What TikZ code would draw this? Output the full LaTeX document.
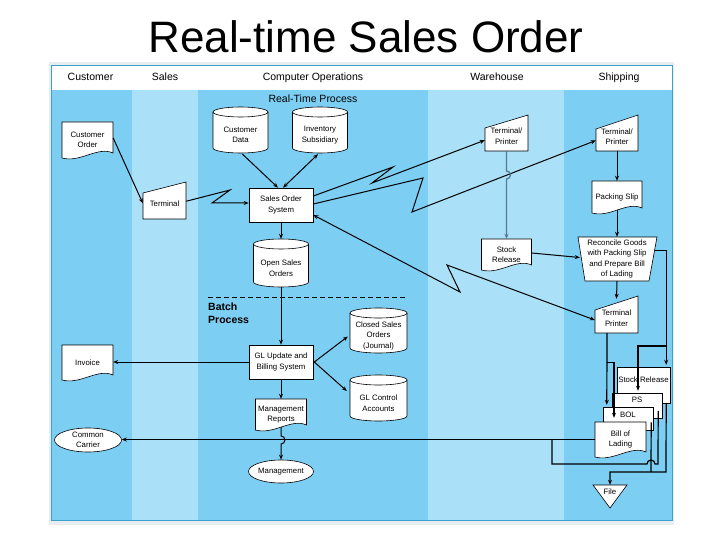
\documentclass[tikz,border=0pt]{standalone}
\usepackage{fontspec}
\setmainfont{Liberation Sans}
\usetikzlibrary{arrows.meta,calc,shapes.geometric}
\definecolor{lanemid}{RGB}{125,206,243}
\definecolor{lanelight}{RGB}{170,224,248}
\definecolor{frameline}{RGB}{60,160,205}
\definecolor{framebg}{RGB}{232,238,240}
\definecolor{slate}{RGB}{85,120,145}
\tikzset{
  shapebox/.style={draw=black, fill=white, line width=0.6pt},
  lbl/.style={inner sep=0pt, align=center, font=\fontsize{7.8}{10.5}\selectfont},
  hdr/.style={inner sep=0pt, text height=7.6pt, text depth=2.2pt, font=\fontsize{10.5}{12}\selectfont},
  conn/.style={draw=black, line width=1pt, -{Stealth[length=5pt,width=4pt]}},
  dconn/.style={draw=black, line width=1pt, {Stealth[length=5pt,width=4pt]}-{Stealth[length=5pt,width=4pt]}},
  thick conn/.style={draw=black, line width=1.2pt, -{Stealth[length=5pt,width=4pt]}},
  thick line/.style={draw=black, line width=1.2pt},
}
% document shape: name cx cy w h text
\newcommand\docnode[6]{%
  \path[shapebox] ({#2-#4/2},{#3-#5/2}) -- ({#2+#4/2},{#3-#5/2}) -- ({#2+#4/2},{#3+#5/2-5})
    .. controls ({#2+#4/5},{#3+#5/2-12}) and ({#2-#4/7},{#3+#5/2+5}) .. ({#2-#4/2},{#3+#5/2}) -- cycle;
  \node[lbl,minimum width=#4pt,minimum height=#5pt] (#1) at (#2,#3) {#6};}
% manual input: name cx cy w h slant text
\newcommand\maninput[7]{%
  \path[shapebox] ({#2-#4/2},{#3-#5/2+#6/2}) -- ({#2+#4/2},{#3-#5/2-#6/2}) -- ({#2+#4/2},{#3+#5/2}) -- ({#2-#4/2},{#3+#5/2}) -- cycle;
  \node[lbl,minimum width=#4pt,minimum height=#5pt] (#1) at (#2,#3) {#7};}
% cylinder: name cx ytop ybot halfwidth text
\newcommand\cylnode[6]{%
  \path[shapebox] ({#2-#5},{#3+5}) -- ({#2-#5},{#4-5}) arc[start angle=180,end angle=360,x radius=#5pt,y radius=5pt]
    -- ({#2+#5},{#3+5}) arc[start angle=0,end angle=180,x radius=#5pt,y radius=5pt] -- cycle;
  \draw[line width=0.6pt] ({#2-#5},{#3+5}) arc[start angle=180,end angle=360,x radius=#5pt,y radius=5pt];
  \node[lbl,minimum width={2*#5pt},minimum height={(#4-#3-10)*1pt}] (#1) at (#2,{(#3+#4+10)/2}) {#6};}
\begin{document}
\begin{tikzpicture}[x=1pt,y=-1pt]
\useasboundingbox (0,0) rectangle (720,540);
\fill[white] (0,0) rectangle (720,540);
\node[inner sep=0pt,font=\fontsize{44}{50}\selectfont] (title) at (366,37) {Real-time Sales Order};
% frame and lanes
\fill[framebg] (49,62) rectangle (674,525);
\fill[white] (52,65) rectangle (672,90);
\fill[lanemid] (52,90) rectangle (132,520);
\fill[lanelight] (132,90) rectangle (198,520);
\fill[lanemid] (198,90) rectangle (428,520);
\fill[lanelight] (428,90) rectangle (564,520);
\fill[lanemid] (564,90) rectangle (672,520);
\draw[frameline,line width=0.8pt] (51.5,65) rectangle (672,520.5);
% headers
\node[hdr] (hcu) at (90.5,77.5) {Customer};
\node[hdr] (hsa) at (165,77.5) {Sales};
\node[hdr] (hco) at (313,77.5) {Computer Operations};
\node[hdr] (hwa) at (497,77.5) {Warehouse};
\node[hdr] (hsh) at (619,77.5) {Shipping};
\node[hdr] (rtp) at (313,99.5) {Real-Time Process};
% batch separator
\draw[line width=1pt,dash pattern=on 5pt off 3pt] (208,297) -- (407,297);
\node[inner sep=0pt,anchor=north west,align=left,font=\bfseries\fontsize{10.5}{13}\selectfont] (batch) at (208,303) {Batch\\Process};
% shapes
\docnode{co}{87.5}{140}{51}{36}{Customer\\Order}
\cylnode{cd}{240.5}{107}{153}{27.5}{Customer\\Data}
\cylnode{invs}{320}{107}{153}{27.5}{Inventory\\Subsidiary}
\maninput{term}{164.5}{203.25}{43}{31.5}{11}{Terminal}
\node[shapebox,lbl,minimum width=64pt,minimum height=34pt] (sos) at (281,205) {Sales Order\\System};
\cylnode{osa}{281}{239}{287}{27.5}{Open Sales\\Orders}
\node[shapebox,lbl,minimum width=64pt,minimum height=34pt] (gl) at (281,362) {GL Update and\\Billing System};
\docnode{invc}{87.5}{362.5}{51}{35}{Invoice}
\cylnode{cso}{378.5}{308}{353}{28.5}{Closed Sales\\Orders\\(Journal)}
\cylnode{gca}{378.5}{375}{421}{28.5}{GL Control\\Accounts}
\docnode{mr}{281}{414.5}{51}{31}{Management\\Reports}
\node[ellipse,shapebox,lbl,minimum width=65pt,minimum height=23pt] (mg) at (281,471.5) {Management};
\node[ellipse,shapebox,lbl,minimum width=67pt,minimum height=24pt] (cc) at (88,440) {Common\\Carrier};
\maninput{twp}{506.5}{136.25}{43}{29.5}{13}{Terminal/\\Printer}
\docnode{sr}{506.5}{254.5}{50}{31}{Stock\\Release}
\maninput{tsp}{617}{136.5}{42}{29}{14}{Terminal/\\Printer}
\docnode{ps}{617}{197}{50}{32}{Packing Slip}
\path[shapebox] (578,237) -- (657,237) -- (649,281) -- (585,281) -- cycle;
\node[lbl,minimum width=72pt,minimum height=44pt] (rec) at (617,259) {Reconcile Goods\\with Packing Slip\\and Prepare Bill\\of Lading};
\maninput{tpl}{616.5}{318}{43}{30}{14}{Terminal\\Printer}
% document stack
\path[shapebox] (617,367) rectangle (670,403);
\node[lbl,minimum width=53pt,minimum height=26pt] (ssr) at (643.5,380) {Stock Release};
\path[shapebox] (612,393) rectangle (662,418);
\node[lbl,minimum width=50pt,minimum height=14pt] (pss) at (637,400) {PS};
\path[shapebox] (603,407) rectangle (653,430);
\node[lbl,minimum width=50pt,minimum height=15pt] (bol) at (628,414.5) {BOL};
\docnode{bl}{620.5}{439.5}{51}{35}{Bill of\\Lading}
\path[shapebox] (593,485) -- (627,485) -- (610,508) -- cycle;
\node[lbl,minimum width=34pt,minimum height=14pt] (file) at (610,492) {File};
% connectors
\draw[conn] ($(co.east)+(0,-2)$) -- (term.west);
\draw[conn] ($(term.east)+(0,-2)$) -- (230,190) -- (212,203) -- ($(sos.west)+(0,-2)$);
\draw[conn] ($(cd.south)+(2,1)$) -- ($(sos.north)+(-3,0)$);
\draw[dconn] ($(invs.south)+(-2,1)$) -- ($(sos.north)+(2,0)$);
\draw[conn] ($(sos.east)+(0,-9)$) -- (393,167) -- (372,183) -- ($(twp.west)+(0,4)$);
\draw[conn] ($(sos.east)+(0,-1)$) -- (423,178) -- (412,212) -- ($(tsp.west)+(0,4)$);
\draw[dconn] ($(sos.east)+(0,10)$) -- (460,292) -- (447,265) -- ($(tpl.west)+(0,2)$);
\draw[conn] (sos.south) -- ($(osa.north)+(0,-10)$);
\draw[conn] (osa.south) -- (gl.north);
\draw[conn] (gl.west) -- (gl.west -| invc.east);
\draw[conn] ($(gl.east)+(1,0)$) -- ($(cso.west)+(-2,1)$);
\draw[conn] ($(gl.east)+(1,0)$) -- ($(gca.west)+(-3,-12)$);
\draw[conn] (gl.south) -- (mr.north);
\draw[conn] ($(mr.south)+(0,-3)$) -- (281,436) arc[start angle=90,end angle=-90,radius=4pt] -- (mg.north);
\draw[conn,draw=slate,color=slate,line width=1.3pt] (twp.south) -- (506.5,171) arc[start angle=90,end angle=-90,radius=4pt] -- (sr.north);
\draw[conn] (tsp.south) -- (ps.north);
\draw[conn] ($(ps.south)+(0,-3)$) -- (rec.north);
\draw[conn] ($(sr.east)+(0,-1.5)$) -- ($(rec.west)+(-1,-1.5)$);
\draw[conn] (rec.south) -- ($(tpl.north)+(0,-4)$);
\draw[thick conn] ($(rec.north east)+(2,14)$) -| ($(ssr.north east)+(-4,-2)$);
\coordinate (rj) at (666,346);
\draw[thick conn] (rj) -| ($(pss.north)+(1,-2)$);
\draw[thick conn] ($(tpl.south)+(-9.5,0)$) -- ($(bol.north west)+(4,-2)$);
\draw[thick conn] ($(tpl.south)+(-9.5,29)$) -| ($(bl.north)+(-6.5,-4)$);
\draw[thick conn] (bl.west) -- (bl.west -| cc.east);
\draw[thick conn] ($(ssr.north east)+(-4,36)$) -- (666,472) -| (file.north);
\draw[thick line] ($(bol.north east)+(-2,15.5)$) -- (651,472);
\coordinate (cj) at (552,440);
\draw[thick line] ($(pss.north east)+(-4,18)$) -- (658,464) -- (655,464) arc[start angle=0,end angle=180,radius=4pt] -- (552,464) -- (cj);
\end{tikzpicture}
\end{document}
